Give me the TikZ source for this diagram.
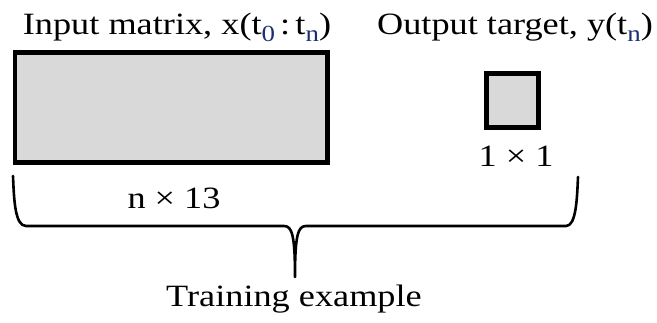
\documentclass[tikz,border=0pt]{standalone}
\usepackage{fontspec}
\setmainfont{Liberation Serif}[FakeStretch=1.17]
\definecolor{boxfill}{HTML}{D9D9D9}
\definecolor{subblue}{HTML}{1A3070}
\newcommand{\sbs}[1]{\raisebox{-0.22em}{\fontsize{23}{23}\selectfont\textcolor{subblue}{#1}}}
\tikzset{
  label text/.style={font=\fontsize{31}{31}\selectfont, inner sep=0pt, anchor=base},
  block/.style={draw=black, line width=4.5pt, fill=boxfill, inner sep=0pt},
  brace line/.style={draw=black, line width=2.6pt, line cap=round, line join=round}
}
\begin{document}
\begin{tikzpicture}[x=1pt,y=-1pt]
  \useasboundingbox (0,0) rectangle (657,323);
  % blocks
  \node[block, minimum width=312.5pt, minimum height=110pt] (input) at (171.25,107.5) {};
  \node[block, minimum width=52pt, minimum height=54pt] (target) at (512.5,100.5) {};
  % captions
  \node[label text] (intitle) at (177,35) {Input matrix, x(t\sbs{0}\,:\,t\sbs{n})};
  \node[label text] (outtitle) at (515,35) {Output target, y(t\sbs{n})};
  \node[label text] (tdim) at (516,167) {1 × 1};
  \node[label text] (indim) at (174,209) {n × 13};
  \node[label text] (example) at (294,307) {Training example};
  % brace under both blocks
  \coordinate (bl) at (13,176);
  \coordinate (br) at (578,177);
  \coordinate (tip) at (295,277);
  \draw[brace line] (bl) .. controls (14,200) and (15,226) .. (26,226)
    -- (284,226) .. controls (292,226) and (295,235) .. (tip)
    .. controls (295,235) and (298,226) .. (306,226)
    -- (566,226) .. controls (576,226) and (577,200) .. (br);
\end{tikzpicture}
\end{document}
